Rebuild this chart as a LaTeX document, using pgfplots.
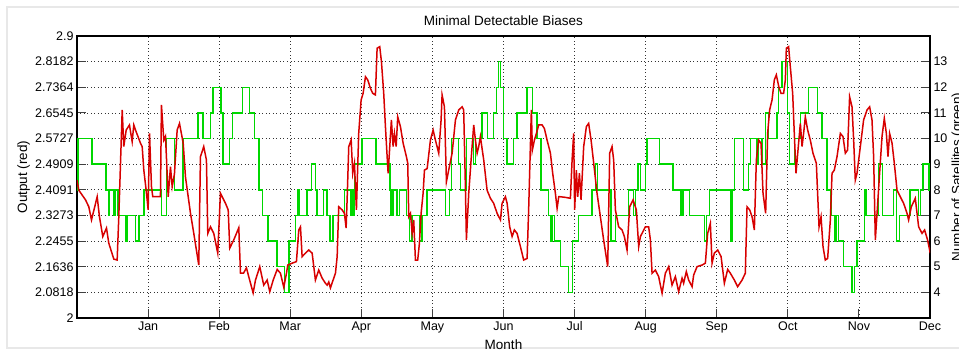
\documentclass[border=0pt]{standalone}
\usepackage{pgfplots}
\pgfplotsset{compat=1.18}
\usepackage{fontspec}
\setmainfont{Liberation Sans}
\definecolor{mred}{RGB}{215,0,0}
\definecolor{mgreen}{RGB}{0,215,0}
\pgfplotsset{
  common/.style={
    at={(0pt,0pt)}, anchor=south west, scale only axis,
    width=853pt, height=282pt, xmin=0, xmax=12,
    /pgf/number format/assume math mode=true,
    ticklabel style={font=\fontsize{12.5}{14}\selectfont},
    label style={font=\fontsize{13.5}{15}\selectfont},
    axis line style={line width=1.1pt},
    tick style={black!75, line width=1pt},
    tick align=inside, major tick length=9pt,
  }
}
\begin{document}
\begin{tikzpicture}
% figure frame
\draw[gray!18, line width=2pt] (882pt,310.5pt) -- (-69.5pt,310.5pt) -- (-69.5pt,-30pt) -- (882pt,-30pt);
% left axis with grid and decorations
\begin{axis}[common, name=ax,
  ymin=2, ymax=2.9,
  xtick={1,2,3,4,5,6,7,8,9,10,11,12},
  xticklabels={Jan,Feb,Mar,Apr,May,Jun,Jul,Aug,Sep,Oct,Nov,Dec},
  ytick={2,2.081818,2.163636,2.245455,2.327273,2.409091,2.490909,2.572727,2.654545,2.736364,2.818182,2.9},
  yticklabels={2,2.0818,2.1636,2.2455,2.3273,2.4091,2.4909,2.5727,2.6545,2.7364,2.8182,2.9},
  ytick pos=left, xtick pos=bottom,
  grid=major,
  major grid style={dash pattern=on 0.9pt off 2.6pt, black!80, line width=0.7pt},
  title={Minimal Detectable Biases},
  title style={font=\fontsize{13.5}{15}\selectfont, yshift=1pt},
  xlabel={Month},
  xlabel style={at={(axis description cs:0.5,-0.078)}, anchor=north, inner sep=0pt},
  ylabel={Output (red)},
  ylabel style={at={(axis description cs:-0.0703,0.5)}, anchor=north, inner sep=0pt},
]
\end{axis}
% right axis, green
\begin{axis}[common,
  ymin=3, ymax=14, ytick={4,5,6,7,8,9,10,11,12,13},
  axis y line*=right, axis x line=none,
  ylabel={Number of Satellites (green)},
  ylabel style={at={(axis description cs:1.0252,0.5)}, anchor=north, inner sep=0pt},
]
\addplot[mgreen, const plot, line width=1.5pt] coordinates {
(0,8) (0.017,10) (0.214,9) (0.411,8) (0.443,7) (0.457,8) (0.518,7) (0.541,8) (0.579,7) (0.692,6) (0.710,7) (0.823,6) (0.869,7) (0.940,8) (1.188,7) (1.259,10) (1.371,8) (1.494,10) (1.699,11) (1.775,10) (1.878,11) (1.910,12) (2.028,11) (2.056,9) (2.145,10) (2.191,11) (2.328,12) (2.430,11) (2.497,10) (2.557,8) (2.613,7) (2.684,6) (2.816,5) (2.918,4) (2.979,6) (3.073,7) (3.111,8) (3.129,7) (3.238,8) (3.298,9) (3.354,8) (3.376,7) (3.467,8) (3.519,7) (3.556,6) (3.601,7) (3.762,8) (3.847,7) (3.868,8) (3.889,7) (3.903,9) (4.008,10) (4.205,9) (4.400,8) (4.419,7) (4.442,8) (4.503,7) (4.540,8) (4.634,7) (4.681,6) (4.715,7) (4.817,6) (4.855,7) (4.926,8) (5.183,7) (5.243,8) (5.267,10) (5.370,9) (5.394,8) (5.478,10) (5.581,9) (5.605,10) (5.699,11) (5.778,10) (5.862,11) (5.900,12) (5.932,13) (5.957,12) (6.003,10) (6.051,9) (6.144,10) (6.191,11) (6.332,12) (6.411,11) (6.473,10) (6.529,8) (6.636,7) (6.660,6) (6.684,7) (6.720,6) (6.800,5) (6.917,4) (6.973,6) (7.058,7) (7.246,8) (7.293,9) (7.321,8) (7.513,6) (7.574,7) (7.761,8) (7.831,7) (7.855,8) (7.893,9) (7.926,8) (7.996,9) (8.020,10) (8.197,9) (8.386,8) (8.495,7) (8.526,8) (8.619,7) (8.826,6) (8.854,7) (8.900,8) (9.191,6) (9.215,8) (9.248,10) (9.378,8) (9.449,9) (9.473,10) (9.557,9) (9.578,10) (9.637,9) (9.684,11) (9.730,10) (9.848,11) (9.871,12) (9.919,13) (9.997,11) (10.025,9) (10.091,10) (10.176,11) (10.293,12) (10.415,11) (10.481,10) (10.549,8) (10.608,7) (10.654,6) (10.675,7) (10.714,6) (10.785,5) (10.903,4) (10.939,5) (10.973,6) (11.076,8) (11.100,7) (11.277,9) (11.333,7) (11.484,8) (11.526,6) (11.572,7) (11.716,8) (11.840,7) (11.864,8) (11.902,9) (11.980,8) (11.990,9) (12,9)
};
\end{axis}
% red series on top
\begin{axis}[common, hide axis, ymin=2, ymax=2.9]
\addplot[mred, line width=1.5pt] coordinates {
(0.000,2.440) (0.025,2.408) (0.120,2.377) (0.166,2.355) (0.204,2.313) (0.284,2.387) (0.316,2.323) (0.363,2.260) (0.415,2.287) (0.447,2.239) (0.518,2.188) (0.565,2.185) (0.588,2.323) (0.636,2.664) (0.658,2.547) (0.692,2.600) (0.738,2.616) (0.776,2.563) (0.799,2.616) (0.823,2.600) (0.893,2.558) (0.917,2.547) (0.940,2.472) (0.973,2.408) (1.001,2.345) (1.020,2.589) (1.048,2.419) (1.066,2.387) (1.174,2.387) (1.188,2.680) (1.221,2.568) (1.245,2.580) (1.283,2.387) (1.315,2.483) (1.339,2.419) (1.371,2.460) (1.409,2.600) (1.442,2.621) (1.494,2.558) (1.526,2.450) (1.596,2.335) (1.643,2.270) (1.713,2.169) (1.737,2.515) (1.783,2.547) (1.821,2.504) (1.840,2.270) (1.878,2.291) (1.924,2.270) (1.980,2.207) (2.018,2.398) (2.089,2.366) (2.127,2.345) (2.149,2.223) (2.205,2.249) (2.276,2.288) (2.300,2.143) (2.342,2.143) (2.384,2.160) (2.416,2.132) (2.478,2.080) (2.511,2.121) (2.571,2.164) (2.627,2.105) (2.675,2.121) (2.712,2.084) (2.760,2.121) (2.816,2.155) (2.862,2.143) (2.909,2.098) (2.947,2.143) (2.965,2.169) (3.027,2.175) (3.087,2.180) (3.120,2.281) (3.144,2.291) (3.167,2.196) (3.214,2.207) (3.260,2.217) (3.308,2.207) (3.354,2.121) (3.401,2.153) (3.449,2.127) (3.495,2.111) (3.519,2.105) (3.542,2.115) (3.565,2.096) (3.636,2.143) (3.660,2.196) (3.682,2.355) (3.730,2.345) (3.762,2.334) (3.786,2.287) (3.800,2.377) (3.823,2.547) (3.857,2.568) (3.879,2.462) (3.903,2.494) (3.931,2.345) (3.963,2.589) (3.997,2.696) (4.025,2.717) (4.058,2.770) (4.090,2.760) (4.128,2.733) (4.160,2.717) (4.198,2.712) (4.222,2.861) (4.259,2.866) (4.283,2.818) (4.315,2.717) (4.339,2.611) (4.363,2.515) (4.377,2.462) (4.400,2.547) (4.423,2.632) (4.447,2.547) (4.466,2.589) (4.490,2.547) (4.512,2.642) (4.550,2.611) (4.588,2.558) (4.634,2.515) (4.653,2.494) (4.667,2.323) (4.691,2.334) (4.715,2.270) (4.737,2.313) (4.761,2.185) (4.793,2.185) (4.817,2.238) (4.841,2.334) (4.869,2.398) (4.888,2.472) (4.926,2.477) (4.972,2.568) (5.010,2.600) (5.042,2.568) (5.089,2.526) (5.122,2.632) (5.136,2.712) (5.169,2.674) (5.197,2.435) (5.229,2.472) (5.277,2.526) (5.324,2.632) (5.370,2.664) (5.418,2.674) (5.440,2.664) (5.464,2.419) (5.478,2.249) (5.511,2.398) (5.544,2.504) (5.581,2.616) (5.605,2.568) (5.629,2.526) (5.651,2.547) (5.675,2.579) (5.699,2.540) (5.722,2.504) (5.769,2.408) (5.816,2.382) (5.862,2.366) (5.910,2.334) (5.957,2.313) (5.980,2.366) (6.027,2.387) (6.051,2.366) (6.087,2.291) (6.121,2.260) (6.153,2.281) (6.191,2.270) (6.238,2.228) (6.284,2.185) (6.332,2.190) (6.355,2.355) (6.378,2.547) (6.392,2.664) (6.406,2.536) (6.435,2.568) (6.463,2.589) (6.495,2.616) (6.543,2.616) (6.575,2.605) (6.613,2.568) (6.660,2.526) (6.692,2.462) (6.730,2.398) (6.754,2.350) (6.777,2.387) (6.800,2.387) (6.871,2.385) (6.941,2.382) (6.965,2.504) (6.987,2.589) (7.001,2.345) (7.025,2.472) (7.044,2.387) (7.068,2.462) (7.091,2.377) (7.128,2.547) (7.166,2.611) (7.198,2.621) (7.232,2.568) (7.269,2.494) (7.316,2.398) (7.363,2.323) (7.409,2.249) (7.466,2.164) (7.494,2.526) (7.527,2.547) (7.550,2.504) (7.574,2.345) (7.620,2.291) (7.668,2.281) (7.700,2.260) (7.738,2.217) (7.775,2.355) (7.823,2.377) (7.869,2.345) (7.902,2.228) (7.926,2.260) (7.996,2.291) (8.042,2.291) (8.066,2.250) (8.090,2.143) (8.136,2.153) (8.183,2.132) (8.207,2.105) (8.231,2.079) (8.277,2.143) (8.324,2.164) (8.371,2.105) (8.418,2.132) (8.464,2.084) (8.512,2.127) (8.534,2.111) (8.572,2.148) (8.605,2.121) (8.653,2.100) (8.675,2.137) (8.723,2.164) (8.793,2.169) (8.840,2.175) (8.872,2.270) (8.910,2.302) (8.934,2.175) (8.966,2.207) (9.013,2.217) (9.061,2.196) (9.107,2.111) (9.154,2.155) (9.191,2.143) (9.248,2.121) (9.294,2.100) (9.356,2.121) (9.402,2.143) (9.426,2.355) (9.463,2.345) (9.497,2.323) (9.529,2.281) (9.557,2.504) (9.590,2.568) (9.623,2.557) (9.651,2.398) (9.688,2.334) (9.716,2.589) (9.744,2.664) (9.778,2.696) (9.810,2.760) (9.838,2.776) (9.871,2.740) (9.904,2.717) (9.941,2.717) (9.965,2.760) (9.979,2.861) (10.011,2.866) (10.035,2.802) (10.068,2.717) (10.091,2.589) (10.115,2.462) (10.143,2.536) (10.176,2.621) (10.200,2.547) (10.222,2.589) (10.246,2.642) (10.279,2.600) (10.316,2.568) (10.354,2.526) (10.401,2.494) (10.419,2.398) (10.439,2.291) (10.467,2.323) (10.495,2.228) (10.527,2.185) (10.560,2.190) (10.598,2.313) (10.622,2.462) (10.654,2.472) (10.692,2.515) (10.739,2.589) (10.776,2.579) (10.809,2.526) (10.841,2.536) (10.869,2.706) (10.903,2.674) (10.926,2.568) (10.949,2.440) (10.973,2.462) (11.020,2.547) (11.066,2.632) (11.114,2.664) (11.151,2.674) (11.184,2.632) (11.207,2.515) (11.231,2.249) (11.255,2.334) (11.291,2.462) (11.325,2.579) (11.357,2.637) (11.386,2.589) (11.409,2.515) (11.432,2.589) (11.466,2.558) (11.498,2.494) (11.536,2.408) (11.582,2.387) (11.629,2.366) (11.677,2.334) (11.699,2.313) (11.737,2.355) (11.793,2.382) (11.840,2.291) (11.888,2.270) (11.924,2.281) (11.966,2.249) (12.004,2.207)
};
\end{axis}
\pgfresetboundingbox
\path[use as bounding box] (-77pt,-33pt) rectangle (882pt,318pt);
\end{tikzpicture}
\end{document}
